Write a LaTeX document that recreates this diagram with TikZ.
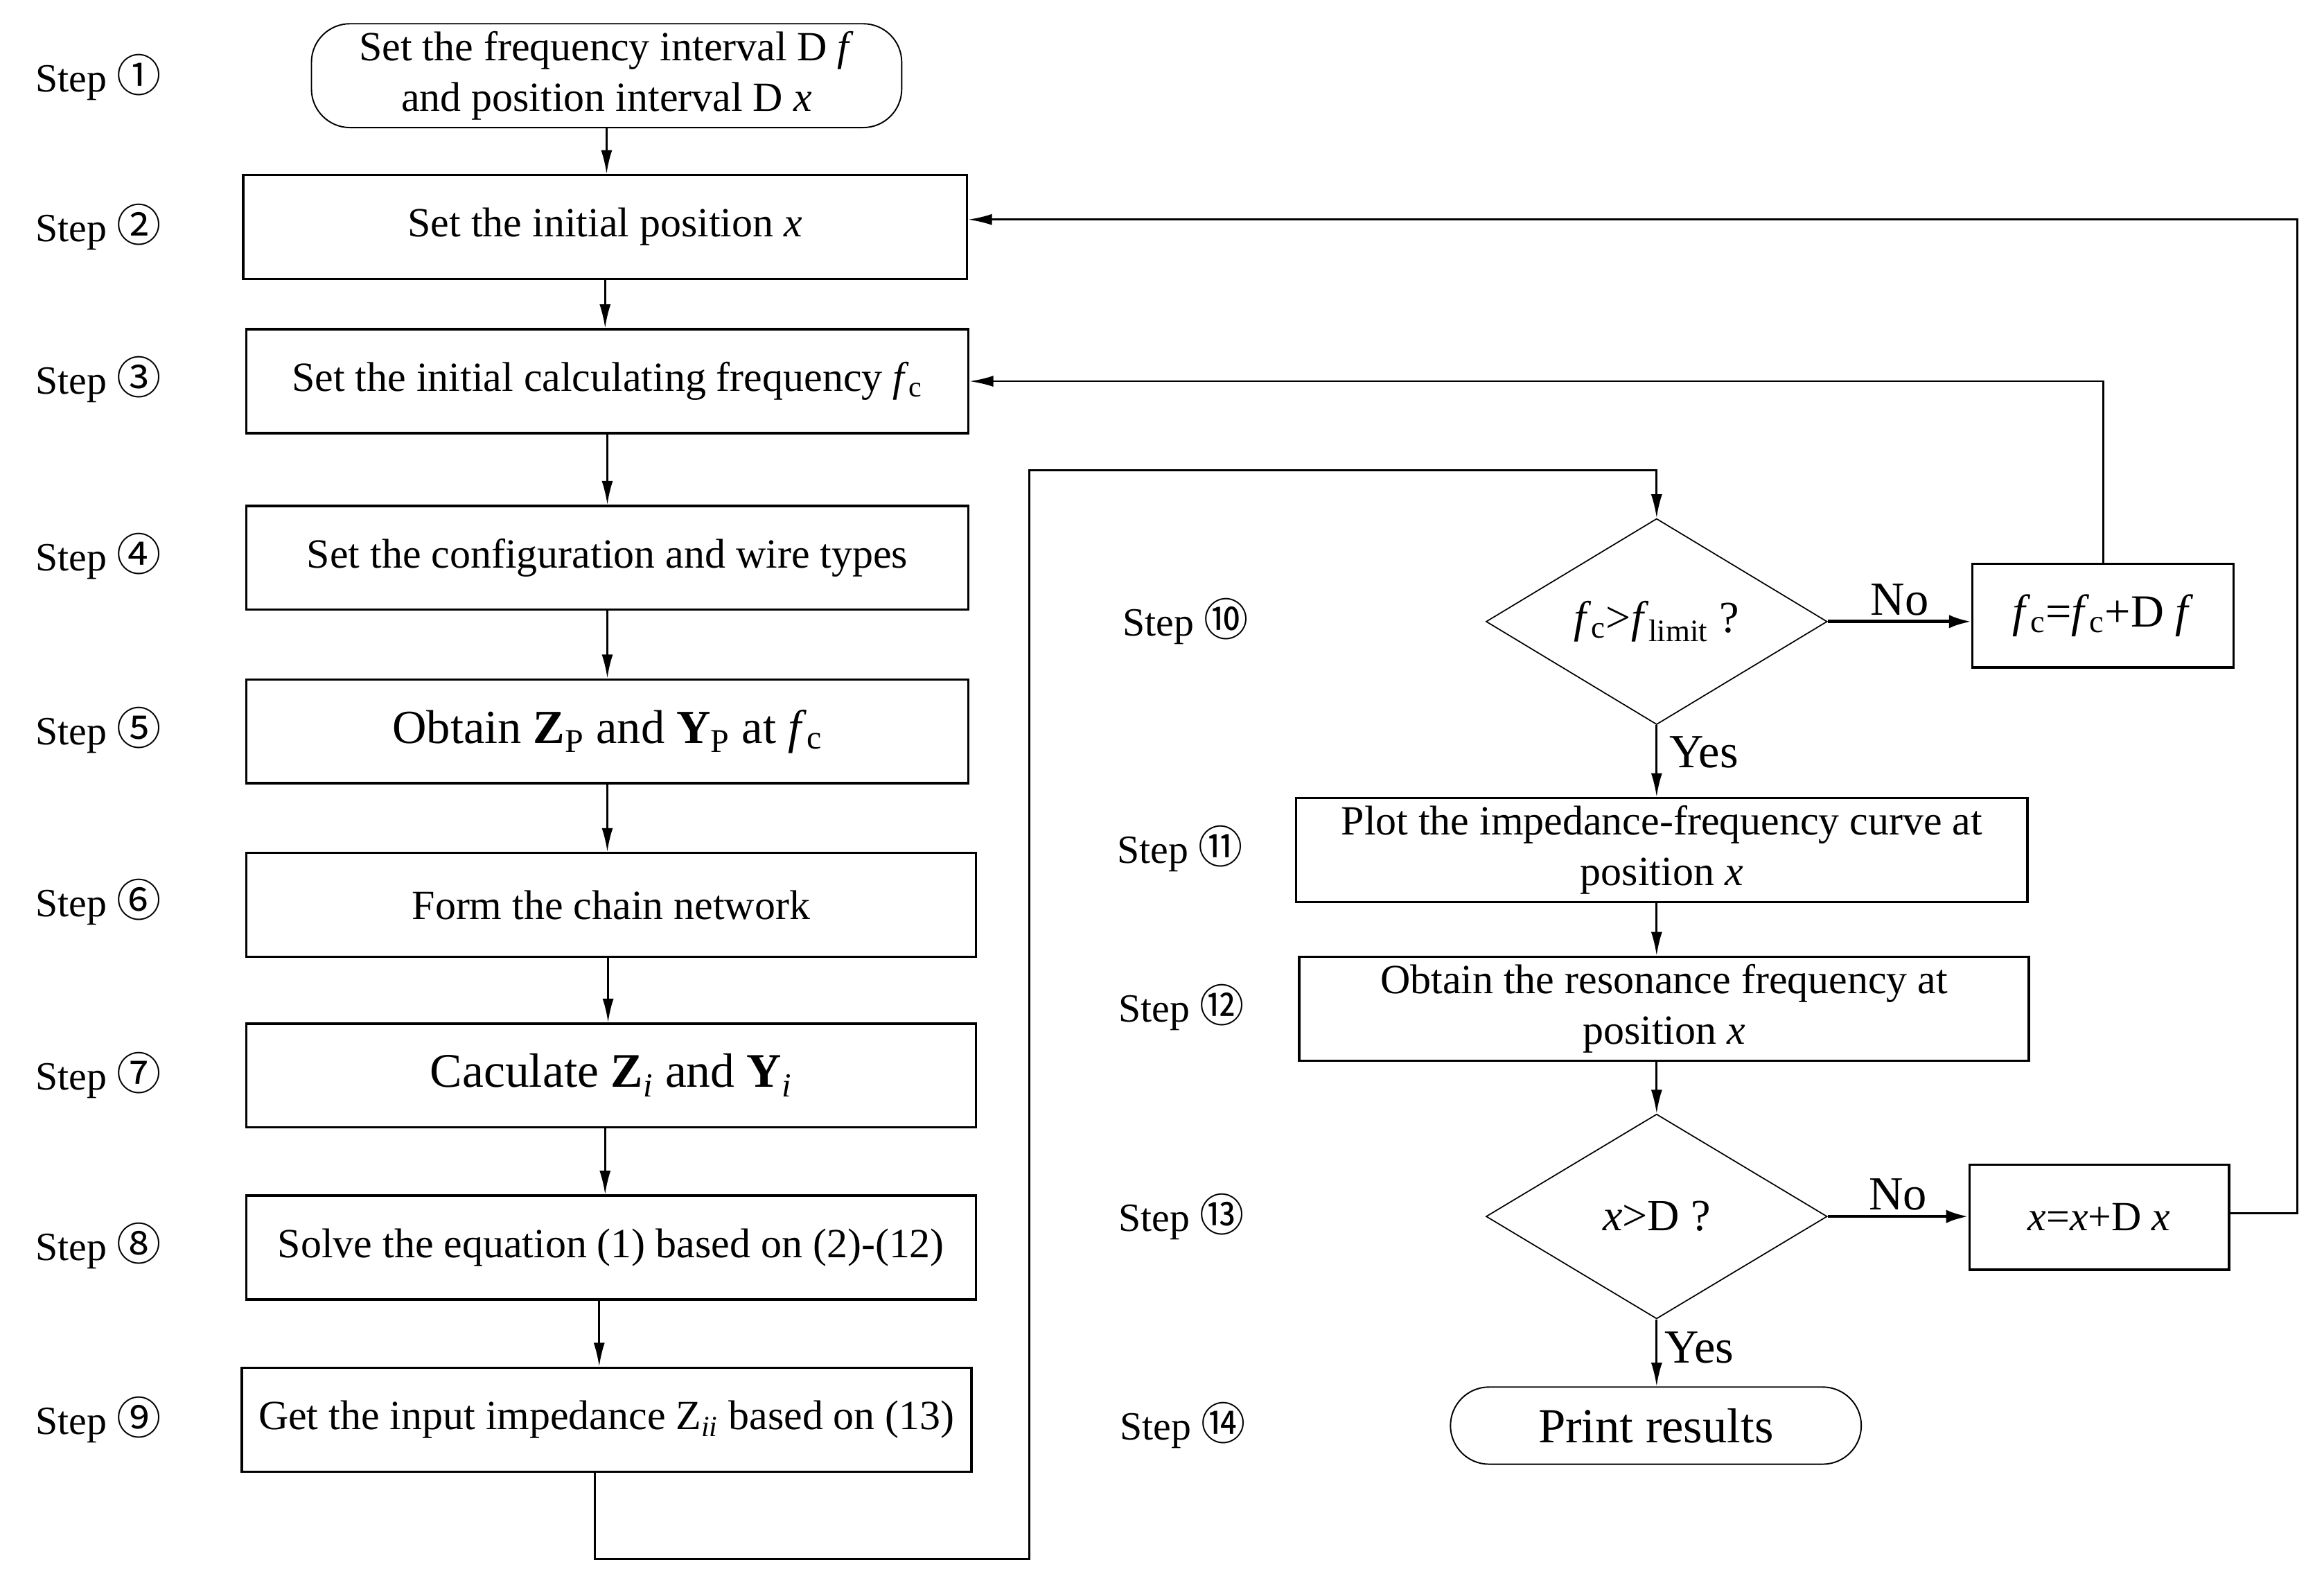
\documentclass[tikz,border=0pt]{standalone}
\usepackage{fontspec}
\setmainfont{Liberation Serif}
\newfontfamily\cjk{Noto Sans CJK SC}
\usetikzlibrary{arrows.meta,shapes.geometric}
\newcommand\sbs[1]{\textsubscript{#1}}
\newcommand\stp[1]{Step {\cjk\fontsize{30}{30}\selectfont #1}}
\tikzset{
  base/.style={font=\fontsize{28}{34}\selectfont, align=center, inner sep=0pt},
  procbox/.style={base, draw, line width=1.6pt, minimum height=70pt},
  termbox/.style={base, draw, line width=0.9pt, rounded corners=26pt},
  decbox/.style={base, draw, line width=0.8pt, shape=diamond, minimum width=230pt, minimum height=138pt},
  steplbl/.style={base, anchor=west, font=\fontsize{27}{27}\selectfont},
  arr/.style={line width=1.3pt, -{Latex[length=16pt,width=7.5pt]}},
  arrb/.style={line width=2.2pt, -{Latex[length=15pt,width=9pt]}},
  ans/.style={base, font=\fontsize{32}{32}\selectfont}
}
\begin{document}
\begin{tikzpicture}[x=1pt,y=-1pt]
\useasboundingbox (0,0) rectangle (1567,1067);
% left column
\node[termbox, minimum width=398pt, minimum height=70pt] (b1) at (409,51) {Set the frequency interval D \textit{f}\\and position interval D \textit{x}};
\node[procbox, minimum width=488pt] (b2) at (408,153) {Set the initial position \textit{x}};
\node[procbox, minimum width=487pt] (b3) at (409.5,257) {Set the initial calculating frequency \textit{f}\sbs{c}};
\node[procbox, minimum width=487pt] (b4) at (409.5,376) {Set the configuration and wire types};
\node[procbox, minimum width=487pt, font=\fontsize{32}{34}\selectfont] (b5) at (409.5,493) {Obtain \textbf{Z}\sbs{P} and \textbf{Y}\sbs{P} at \textit{f}\sbs{c}};
\node[procbox, minimum width=492pt] (b6) at (412,610) {Form the chain network};
\node[procbox, minimum width=492pt, font=\fontsize{32.5}{34}\selectfont] (b7) at (412,725) {Caculate \textbf{Z}\sbs{\textit{i}} and \textbf{Y}\sbs{\textit{i}}};
\node[procbox, minimum width=492pt] (b8) at (412,841) {Solve the equation (1) based on (2)-(12)};
\node[procbox, minimum width=492pt] (b9) at (409,957) {Get the input impedance Z\sbs{\textit{ii}} based on (13)};
% right column
\node[decbox, font=\fontsize{30}{30}\selectfont] (d1) at (1117,419) {\textit{f}\sbs{c}\textgreater\textit{f}\sbs{limit} ?};
\node[procbox, minimum width=176pt, font=\fontsize{31}{31}\selectfont] (bf) at (1418,415) {\textit{f}\sbs{c}=\textit{f}\sbs{c}+D \textit{f}};
\node[procbox, minimum width=493pt] (b11) at (1120.5,573) {Plot the impedance-frequency curve at\\position \textit{x}};
\node[procbox, minimum width=492pt] (b12) at (1122,680) {Obtain the resonance frequency at\\position \textit{x}};
\node[decbox, font=\fontsize{30}{30}\selectfont] (d2) at (1117,820) {\textit{x}\textgreater D ?};
\node[procbox, minimum width=175pt, minimum height=71pt] (bx) at (1415.5,820.5) {\textit{x}=\textit{x}+D \textit{x}};
\node[termbox, minimum width=277pt, minimum height=52pt, font=\fontsize{33}{33}\selectfont] (pr) at (1116.5,961) {Print results};
% step labels
\node[steplbl] (s1) at (24,52) {\stp{①}};
\node[steplbl] (s2) at (24,153) {\stp{②}};
\node[steplbl] (s3) at (24,256) {\stp{③}};
\node[steplbl] (s4) at (24,375) {\stp{④}};
\node[steplbl] (s5) at (24,492) {\stp{⑤}};
\node[steplbl] (s6) at (24,608) {\stp{⑥}};
\node[steplbl] (s7) at (24,725) {\stp{⑦}};
\node[steplbl] (s8) at (24,840) {\stp{⑧}};
\node[steplbl] (s9) at (24,957) {\stp{⑨}};
\node[steplbl] (s10) at (757,419) {\stp{⑩}};
\node[steplbl] (s11) at (753,572) {\stp{⑪}};
\node[steplbl] (s12) at (754,679) {\stp{⑫}};
\node[steplbl] (s13) at (754,820) {\stp{⑬}};
\node[steplbl] (s14) at (755,961) {\stp{⑭}};
% connectors left column
\draw[arr] (b1.south) -- (b1.south |- b2.north);
\draw[arr] (b2.south) -- (b2.south |- b3.north);
\draw[arr] (b3.south) -- (b3.south |- b4.north);
\draw[arr] (b4.south) -- (b4.south |- b5.north);
\draw[arr] (b5.south) -- (b5.south |- b6.north);
\draw[arr] ([xshift=-2pt]b6.south) -- ([xshift=-2pt]b6.south |- b7.north);
\draw[arr] ([xshift=-4pt]b7.south) -- ([xshift=-4pt]b7.south |- b8.north);
\draw[arr] ([xshift=-8pt]b8.south) -- ([xshift=-8pt]b8.south |- b9.north);
\coordinate (c1) at (694,1051);
\coordinate (c2) at (694,317);
\draw[arr] ([xshift=-8pt]b9.south) |- (c1) -- (c2) -| (d1.north);
% right column
\draw[arrb] (d1.east) -- (bf.west |- d1.east) node[ans, midway, above=3pt] (no1) {No};
\draw[arr] (bf.north) |- (b3.east);
\draw[arr] (d1.south) -- (b11.north -| d1.south) node[ans, pos=0.38, right=8pt] (y1) {Yes};
\draw[arr] (b11.south -| d1.south) -- (b12.north -| d1.south);
\draw[arr] (b12.south -| d2.north) -- (d2.north);
\draw[arrb] (d2.east) -- (bx.west |- d2.east) node[ans, midway, above=3pt] (no2) {No};
\coordinate (c3) at (1549,818);
\draw[arr] (bx.east |- c3) -- (c3) |- ([yshift=5pt]b2.east);
\draw[arr] (d2.south) -- (pr.north -| d2.south) node[ans, pos=0.42, right=5pt] (y2) {Yes};
\end{tikzpicture}
\end{document}
